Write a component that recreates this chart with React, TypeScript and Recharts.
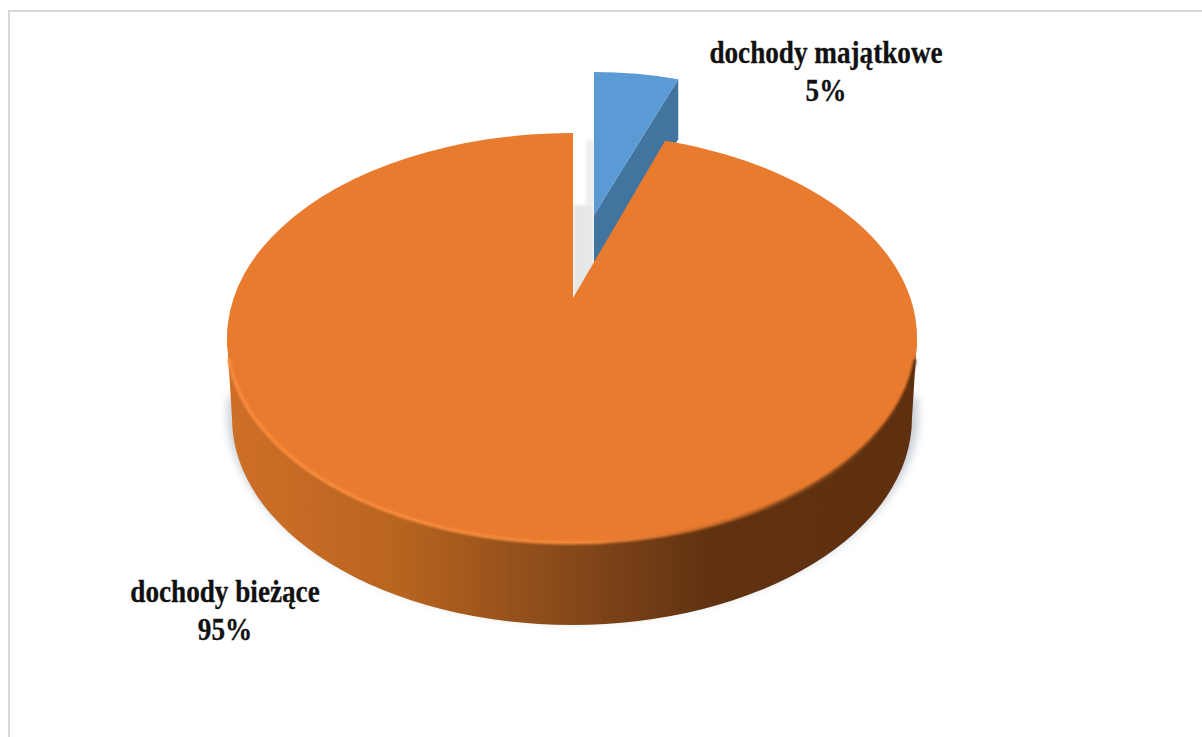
import React from 'react';
import { PieChart, Pie, Cell } from 'recharts';

const CATEGORIES = ['dochody majątkowe', 'dochody bieżące'];
const VALUES = [5, 95];
const COLORS = ['#5B9BD5', '#E97B2F'];

const data = CATEGORIES.map((name, i) => ({ name, value: VALUES[i] }));

const DEG = Math.PI / 180;

type Ellipse = { x: number; y: number; rx: number; ry: number };

// where the ray at the given pie angle leaves the tilted rim;
// squash flattens the rays vertically
function rimPoint(ax: number, ay: number, e: Ellipse, angle: number, squash: number) {
  const dx = Math.cos(angle * DEG);
  const dy = -squash * Math.sin(angle * DEG);
  const ox = (ax - e.x) / e.rx;
  const oy = (ay - e.y) / e.ry;
  const ux = dx / e.rx;
  const uy = dy / e.ry;
  const a = ux * ux + uy * uy;
  const b = 2 * (ox * ux + oy * uy);
  const c = ox * ox + oy * oy - 1;
  const t = (-b + Math.sqrt(b * b - 4 * a * c)) / (2 * a);
  return { x: ax + dx * t, y: ay + dy * t };
}

function BlueSlice(props: any) {
  const { cx, cy, outerRadius, startAngle, endAngle, fill } = props;
  // pulled out of the pie and a bit smaller because it sits further back
  const ax = cx + 21;
  const ay = cy - 83;
  const e = { x: ax, y: ay + 35, rx: outerRadius * 0.87, ry: outerRadius * 0.516 };
  const a = rimPoint(ax, ay, e, startAngle, 0.524);
  const b = rimPoint(ax, ay, e, endAngle, 0.524);
  const depth = 60;
  return (
    <g>
      <defs>
        <filter id="gapBlur" x="-40%" y="-20%" width="180%" height="140%">
          <feGaussianBlur stdDeviation="1.5" />
        </filter>
      </defs>
      {/* shadow falling into the gap beside the slice */}
      <path
        d={`M${ax - 8} ${ay - 75} L${ax} ${ay - 75} L${ax} ${ay - 10} L${ax - 8} ${ay - 10} Z`}
        fill="#eeeeef"
        filter="url(#gapBlur)"
      />
      <path
        d={`M${ax} ${ay - 10} L${ax} ${ay + 90} L${ax - 21} ${ay + 90} L${ax - 21} ${ay - 10} Z`}
        fill="#e6e7e9"
        filter="url(#gapBlur)"
      />
      <path
        d={`M${b.x} ${b.y} L${ax} ${ay} L${ax} ${ay + depth} L${b.x} ${b.y + depth} Z`}
        fill="#41749F"
      />
      <path
        d={`M${ax} ${ay} L${a.x} ${a.y} A${e.rx} ${e.ry} 0 0 1 ${b.x} ${b.y} Z`}
        fill={fill}
      />
    </g>
  );
}

function OrangeSlice(props: any) {
  const { cx, cy, outerRadius, startAngle, endAngle, fill } = props;
  const top = { x: cx - 1, y: cy + 40, rx: outerRadius, ry: outerRadius * 0.594 };
  const low = { x: cx - 1, y: cy + 120, rx: outerRadius - 5, ry: outerRadius * 0.6 };
  const a = rimPoint(cx, cy, top, startAngle, 0.555);
  const b = rimPoint(cx, cy, top, endAngle, 0.555);
  const large = startAngle - endAngle > 180 ? 1 : 0;
  // bevel runs along the front of the rim, stopping short of the two sides
  const bevelX = top.rx * Math.cos(6 * DEG);
  const bevelY = top.ry * Math.sin(6 * DEG);
  const frontTop = `M${top.x + bevelX} ${top.y + bevelY} A${top.rx} ${top.ry} 0 0 1 ${top.x - bevelX} ${top.y + bevelY}`;
  return (
    <g>
      <defs>
        <linearGradient id="wall" x1="0" y1="0" x2="1" y2="0">
          <stop offset="0" stopColor="#CF6F28" />
          <stop offset="0.25" stopColor="#B8641F" />
          <stop offset="0.5" stopColor="#85481A" />
          <stop offset="0.7" stopColor="#613211" />
          <stop offset="1" stopColor="#5E3010" />
        </linearGradient>
        <linearGradient id="bevel" x1="0" y1="0" x2="1" y2="0">
          <stop offset="0" stopColor="#FC8F3F" />
          <stop offset="0.5" stopColor="#F88D3E" />
          <stop offset="0.7" stopColor="#C76B28" />
          <stop offset="0.85" stopColor="#8A4C1C" />
          <stop offset="1" stopColor="#5E3010" />
        </linearGradient>
        <filter id="softer" x="-10%" y="-30%" width="120%" height="160%">
          <feGaussianBlur stdDeviation="4" />
        </filter>
        <filter id="rimBlur" x="-5%" y="-5%" width="110%" height="110%">
          <feGaussianBlur stdDeviation="1.2" />
        </filter>
      </defs>
      {/* shadow under the pie, front half only so the back slice stays clean */}
      <path
        d={`M${low.x + low.rx + 6} ${low.y - 30} L${low.x + low.rx + 6} ${low.y} A${low.rx + 6} ${low.ry + 3} 0 0 1 ${low.x - low.rx - 4} ${low.y} L${low.x - low.rx - 4} ${low.y - 30} Z`}
        transform="translate(0 9)"
        fill="#c8cfd6"
        filter="url(#softer)"
      />
      {/* side wall */}
      <path
        d={`M${top.x + top.rx} ${top.y} L${low.x + low.rx} ${low.y} A${low.rx} ${low.ry} 0 0 1 ${low.x - low.rx} ${low.y} L${top.x - top.rx} ${top.y} Z`}
        fill="url(#wall)"
      />
      {/* top face */}
      <path
        d={`M${cx} ${cy} L${a.x} ${a.y} A${top.rx} ${top.ry} 0 ${large} 1 ${b.x} ${b.y} Z`}
        fill={fill}
      />
      <path d={frontTop} fill="none" stroke="url(#bevel)" strokeWidth={3} filter="url(#rimBlur)" />
    </g>
  );
}

function sliceShape(props: any) {
  return props.name === CATEGORIES[0] ? <BlueSlice {...props} /> : <OrangeSlice {...props} />;
}

// label centres, relative to the pie centre
const LABEL_OFFSET: Record<string, [number, number]> = {
  [CATEGORIES[0]]: [253, -235],
  [CATEGORIES[1]]: [-348, 304],
};

function sliceLabel(props: any) {
  const { cx, cy, name, percent } = props;
  const [dx, dy] = LABEL_OFFSET[name];
  return (
    <g transform={`translate(${cx + dx} ${cy + dy}) scale(0.877 1)`}>
      <text
        textAnchor="middle"
        fontFamily="'Liberation Serif', serif"
        fontWeight={700}
        fontSize={31}
        fill="#111"
        stroke="#111"
        strokeWidth={0.3}
      >
        <tspan x={0} y={0}>{name}</tspan>
        <tspan x={0} y={38}>{`${Math.round(percent * 100)}%`}</tspan>
      </text>
    </g>
  );
}

export default function App() {
  return (
    <div style={{ position: 'absolute', left: 0, top: 0, width: 1202, height: 737, background: '#fff', overflow: 'hidden' }}>
      <div
        style={{
          position: 'absolute',
          left: 8,
          top: 10,
          width: 1200,
          height: 740,
          border: '2px solid #d9d9d9',
        }}
      />
      <PieChart
        width={1202}
        height={737}
        margin={{ top: 0, right: 0, bottom: 0, left: 0 }}
        style={{ position: 'absolute', left: 0, top: 0 }}
      >
        <Pie
          data={data}
          dataKey="value"
          nameKey="name"
          cx={573}
          cy={298}
          outerRadius={345}
          startAngle={90}
          endAngle={-270}
          stroke="none"
          isAnimationActive={false}
          shape={sliceShape}
          label={sliceLabel}
          labelLine={false}
        >
          {data.map((d, i) => (
            <Cell key={d.name} fill={COLORS[i]} />
          ))}
        </Pie>
      </PieChart>
    </div>
  );
}
